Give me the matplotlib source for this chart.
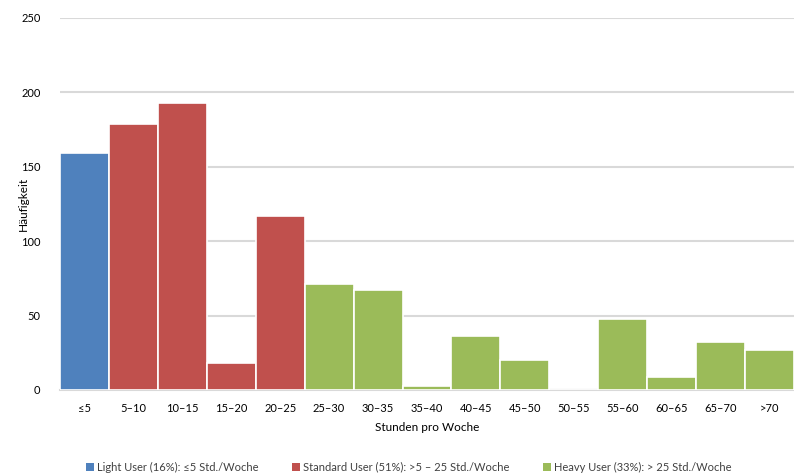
import matplotlib
matplotlib.use("Agg")
import matplotlib.pyplot as plt
from matplotlib.patches import Patch

plt.rcParams["font.family"] = ["Lato", "DejaVu Sans"]

# Stundenklassen und Häufigkeiten
categories = ["≤5", "5–10", "10–15", "15–20", "20–25", "25–30", "30–35", "35–40",
              "40–45", "45–50", "50–55", "55–60", "60–65", "65–70", ">70"]
counts = [159, 179, 193, 18, 117, 71, 67, 3, 36, 20, 0, 48, 9, 32, 27]
groups = ["light"] + ["standard"] * 4 + ["heavy"] * 10

group_colors = {"light": "#4F81BD", "standard": "#C0504D", "heavy": "#9BBB59"}
legend_labels = [
    ("light", "Light User (16%): ≤5 Std./Woche"),
    ("standard", "Standard User (51%): >5 – 25 Std./Woche"),
    ("heavy", "Heavy User (33%): > 25 Std./Woche"),
]

fig = plt.figure(figsize=(7.94, 4.75), dpi=100)
ax = fig.add_axes([60 / 794, 1 - 390 / 475, 734 / 794, 372 / 475])

x = list(range(len(categories)))
ax.bar(x, counts, width=1.0, color=[group_colors[g] for g in groups],
       edgecolor="white", linewidth=1.2, zorder=3)

ax.set_xlim(-0.5, len(categories) - 0.5)
ax.set_ylim(0, 250)
ax.set_yticks([0, 50, 100, 150, 200, 250])
ax.set_xticks(x)
ax.set_xticklabels(categories)

ax.grid(axis="y", color="#D9D9D9", linewidth=1.5, zorder=0)
for side in ["top", "right", "left"]:
    ax.spines[side].set_visible(False)
ax.spines["bottom"].set_color("#D9D9D9")
ax.spines["bottom"].set_linewidth(1.5)
ax.tick_params(axis="both", length=0, labelsize=8, colors="#000000")
ax.tick_params(axis="x", pad=9)
ax.tick_params(axis="y", pad=14)

ax.set_xlabel("Stunden pro Woche", fontsize=8.5, labelpad=6)
ax.set_ylabel("Häufigkeit", fontsize=8.5)
ax.yaxis.set_label_coords(-31 / 734, 0.5)

handles = [Patch(facecolor=group_colors[g], edgecolor="none") for g, _ in legend_labels]
fig.legend(handles, [t for _, t in legend_labels], loc="center",
           bbox_to_anchor=(0.515, 1 - 467 / 475), ncol=3, frameon=False,
           fontsize=8, handlelength=0.7, handleheight=0.7, handletextpad=0.3,
           columnspacing=3.0, labelcolor="#404040")

fig.savefig("out.png", dpi=100)
